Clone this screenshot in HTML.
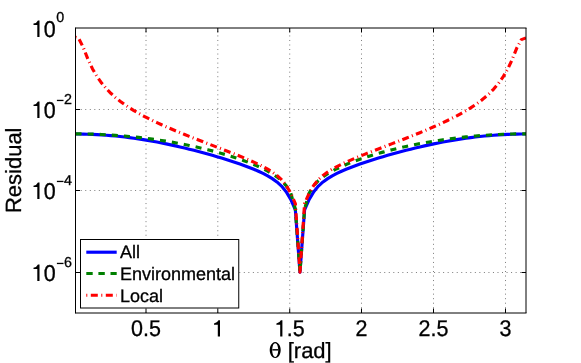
<!DOCTYPE html>
<html><head><meta charset="utf-8"><title>Residual</title>
<style>
html,body{margin:0;padding:0;background:#fff;}
svg{display:block;will-change:transform;}
text{font-family:"Liberation Sans",sans-serif;fill:#000;stroke:#000;stroke-width:0.3px;text-rendering:geometricPrecision;filter:grayscale(1);}
</style></head><body>
<svg width="581" height="363" viewBox="0 0 581 363">
<rect width="581" height="363" fill="#fff"/>

<g stroke="#7c7c7c" stroke-width="1" stroke-dasharray="1 3.53" fill="none">
<line x1="146.0" y1="313.0" x2="146.0" y2="28.0" stroke-dashoffset="4.3"/>
<line x1="217.8" y1="313.0" x2="217.8" y2="28.0" stroke-dashoffset="4.3"/>
<line x1="289.72" y1="313.0" x2="289.72" y2="28.0" stroke-dashoffset="4.3"/>
<line x1="361.5" y1="313.0" x2="361.5" y2="28.0" stroke-dashoffset="4.3"/>
<line x1="433.5" y1="313.0" x2="433.5" y2="28.0" stroke-dashoffset="4.3"/>
<line x1="505.5" y1="313.0" x2="505.5" y2="28.0" stroke-dashoffset="4.3"/>
<line x1="75.5" y1="109.50" x2="526.0" y2="109.50" stroke-dashoffset="3.83"/>
<line x1="75.5" y1="190.50" x2="526.0" y2="190.50" stroke-dashoffset="3.83"/>
<line x1="75.5" y1="272.50" x2="526.0" y2="272.50" stroke-dashoffset="3.83"/>
</g>
<clipPath id="c"><rect x="75.5" y="28.0" width="450.5" height="285.0"/></clipPath>
<g clip-path="url(#c)" fill="none" stroke-width="3.15" stroke-linejoin="round">
<path d="M75.50,134.00 L78.57,134.02 L83.18,134.09 L87.80,134.22 L92.41,134.40 L97.02,134.63 L101.63,134.91 L106.25,135.24 L110.86,135.62 L115.47,136.05 L120.08,136.53 L124.70,137.06 L129.31,137.64 L133.92,138.26 L138.53,138.93 L143.15,139.65 L147.76,140.41 L152.37,141.22 L156.98,142.06 L161.60,142.96 L166.21,143.89 L170.82,144.87 L175.43,145.88 L180.04,146.93 L184.66,148.03 L189.27,149.16 L193.88,150.32 L198.49,151.53 L203.11,152.77 L207.72,154.04 L212.33,155.35 L216.94,156.70 L221.56,158.09 L226.17,159.52 L230.78,160.99 L235.39,162.52 L240.01,164.10 L244.62,165.74 L249.23,167.47 L253.84,169.31 L258.45,171.28 L263.07,173.44 L267.68,175.85 L272.29,178.63 L276.90,181.95 L281.52,186.11 L286.13,191.64 L290.74,199.46 L295.35,209.83 L299.97,272.20 L304.58,209.83 L309.19,199.46 L313.80,191.64 L318.42,186.11 L323.03,181.95 L327.64,178.63 L332.25,175.85 L336.87,173.44 L341.48,171.28 L346.09,169.31 L350.70,167.47 L355.31,165.74 L359.93,164.10 L364.54,162.52 L369.15,160.99 L373.76,159.52 L378.38,158.09 L382.99,156.70 L387.60,155.35 L392.21,154.04 L396.83,152.77 L401.44,151.53 L406.05,150.32 L410.66,149.16 L415.28,148.03 L419.89,146.93 L424.50,145.88 L429.11,144.87 L433.72,143.89 L438.34,142.96 L442.95,142.06 L447.56,141.22 L452.17,140.41 L456.79,139.65 L461.40,138.93 L466.01,138.26 L470.62,137.64 L475.24,137.06 L479.85,136.53 L484.46,136.05 L489.07,135.62 L493.69,135.24 L498.30,134.91 L502.91,134.63 L507.52,134.40 L512.14,134.22 L516.75,134.09 L521.36,134.02 L525.97,133.99" stroke="#0000ff"/>
<path d="M75.50,133.86 L78.57,133.87 L83.18,133.93 L87.80,134.02 L92.41,134.14 L97.02,134.30 L101.63,134.50 L106.25,134.74 L110.86,135.01 L115.47,135.32 L120.08,135.67 L124.70,136.05 L129.31,136.47 L133.92,136.92 L138.53,137.42 L143.15,137.95 L147.76,138.52 L152.37,139.13 L156.98,139.78 L161.60,140.47 L166.21,141.20 L170.82,141.97 L175.43,142.78 L180.04,143.63 L184.66,144.52 L189.27,145.46 L193.88,146.45 L198.49,147.48 L203.11,148.56 L207.72,149.69 L212.33,150.87 L216.94,152.11 L221.56,153.40 L226.17,154.76 L230.78,156.18 L235.39,157.67 L240.01,159.24 L244.62,160.90 L249.23,162.66 L253.84,164.53 L258.45,166.54 L263.07,168.72 L267.68,171.11 L272.29,173.79 L276.90,176.89 L281.52,180.65 L286.13,185.57 L290.74,193.06 L295.35,208.95 L299.97,272.20 L304.58,208.95 L309.19,193.06 L313.80,185.57 L318.42,180.65 L323.03,176.89 L327.64,173.79 L332.25,171.11 L336.87,168.72 L341.48,166.54 L346.09,164.53 L350.70,162.66 L355.31,160.90 L359.93,159.24 L364.54,157.67 L369.15,156.18 L373.76,154.76 L378.38,153.40 L382.99,152.11 L387.60,150.87 L392.21,149.69 L396.83,148.56 L401.44,147.48 L406.05,146.45 L410.66,145.46 L415.28,144.52 L419.89,143.63 L424.50,142.78 L429.11,141.97 L433.72,141.20 L438.34,140.47 L442.95,139.78 L447.56,139.13 L452.17,138.52 L456.79,137.95 L461.40,137.42 L466.01,136.92 L470.62,136.47 L475.24,136.05 L479.85,135.67 L484.46,135.32 L489.07,135.01 L493.69,134.74 L498.30,134.50 L502.91,134.30 L507.52,134.14 L512.14,134.02 L516.75,133.93 L521.36,133.87 L525.97,133.85" stroke="#008000" stroke-dasharray="6.05 6.05"/>
<path d="M75.50,37.34 L78.57,38.12 L83.18,47.21 L87.80,58.94 L92.41,68.69 L97.02,76.56 L101.63,83.05 L106.25,88.54 L110.86,93.29 L115.47,97.47 L120.08,101.21 L124.70,104.60 L129.31,107.71 L133.92,110.58 L138.53,113.27 L143.15,115.79 L147.76,118.18 L152.37,120.47 L156.98,122.66 L161.60,124.77 L166.21,126.82 L170.82,128.81 L175.43,130.76 L180.04,132.67 L184.66,134.54 L189.27,136.39 L193.88,138.22 L198.49,140.03 L203.11,141.83 L207.72,143.61 L212.33,145.40 L216.94,147.18 L221.56,148.96 L226.17,150.75 L230.78,152.55 L235.39,154.37 L240.01,156.23 L244.62,158.12 L249.23,160.07 L253.84,162.11 L258.45,164.26 L263.07,166.57 L267.68,169.12 L272.29,172.01 L276.90,175.43 L281.52,179.67 L286.13,185.26 L290.74,193.12 L295.35,203.52 L299.97,272.20 L304.58,203.52 L309.19,193.12 L313.80,185.26 L318.42,179.67 L323.03,175.43 L327.64,172.01 L332.25,169.12 L336.87,166.57 L341.48,164.26 L346.09,162.11 L350.70,160.07 L355.31,158.12 L359.93,156.23 L364.54,154.37 L369.15,152.55 L373.76,150.75 L378.38,148.96 L382.99,147.18 L387.60,145.40 L392.21,143.61 L396.83,141.83 L401.44,140.03 L406.05,138.22 L410.66,136.39 L415.28,134.54 L419.89,132.67 L424.50,130.76 L429.11,128.81 L433.72,126.82 L438.34,124.77 L442.95,122.66 L447.56,120.47 L452.17,118.18 L456.79,115.79 L461.40,113.27 L466.01,110.68 L470.62,107.88 L475.24,104.84 L479.85,101.51 L484.46,97.84 L489.07,93.72 L493.69,89.04 L498.30,83.61 L502.91,77.19 L507.52,69.39 L512.14,59.64 L516.75,48.11 L521.36,39.62 L525.97,37.95" stroke="#ff0000" stroke-dasharray="1 3.4 6.9 3.36"/>
</g>
<g stroke="#000" stroke-width="1" fill="none">
<line x1="75.5" y1="27.5" x2="75.5" y2="313.5"/>
<line x1="75.5" y1="313.0" x2="526.5" y2="313.0"/>
<line x1="75.5" y1="28.0" x2="526.5" y2="28.0"/>
<line x1="526.0" y1="28.0" x2="526.0" y2="313.0"/>
<line x1="146.0" y1="313.0" x2="146.0" y2="308.5"/>
<line x1="146.0" y1="28.0" x2="146.0" y2="32.5"/>
<line x1="217.8" y1="313.0" x2="217.8" y2="308.5"/>
<line x1="217.8" y1="28.0" x2="217.8" y2="32.5"/>
<line x1="289.72" y1="313.0" x2="289.72" y2="308.5"/>
<line x1="289.72" y1="28.0" x2="289.72" y2="32.5"/>
<line x1="361.5" y1="313.0" x2="361.5" y2="308.5"/>
<line x1="361.5" y1="28.0" x2="361.5" y2="32.5"/>
<line x1="433.5" y1="313.0" x2="433.5" y2="308.5"/>
<line x1="433.5" y1="28.0" x2="433.5" y2="32.5"/>
<line x1="505.5" y1="313.0" x2="505.5" y2="308.5"/>
<line x1="505.5" y1="28.0" x2="505.5" y2="32.5"/>
<line x1="75.5" y1="109.5" x2="80.0" y2="109.5"/>
<line x1="526.0" y1="109.5" x2="521.5" y2="109.5"/>
<line x1="75.5" y1="190.5" x2="80.0" y2="190.5"/>
<line x1="526.0" y1="190.5" x2="521.5" y2="190.5"/>
<line x1="75.5" y1="272.5" x2="80.0" y2="272.5"/>
<line x1="526.0" y1="272.5" x2="521.5" y2="272.5"/>
</g>
<text transform="translate(146.0,336.3) scale(1,1.055)" font-size="21.5" text-anchor="middle">0.5</text>
<path fill="#000" d="M214.00,323.40 Q217.30,323.10 218.45,320.30 L220.00,320.30 L220.00,336.50 L217.80,336.50 L217.80,324.75 L214.00,324.75 Z"/>
<path fill="#000" d="M276.40,323.40 Q279.70,323.10 280.85,320.30 L282.40,320.30 L282.40,336.50 L280.20,336.50 L280.20,324.75 L276.40,324.75 Z"/>
<text transform="translate(286.8,336.3) scale(1,1.055)" font-size="21.5" text-anchor="start">.5</text>
<text transform="translate(361.5,336.3) scale(1,1.055)" font-size="21.5" text-anchor="middle">2</text>
<text transform="translate(433.5,336.3) scale(1,1.055)" font-size="21.5" text-anchor="middle">2.5</text>
<text transform="translate(505.5,336.3) scale(1,1.055)" font-size="21.5" text-anchor="middle">3</text>
<text transform="translate(55.8,36.50) scale(1,1.065)" font-size="21.5" text-anchor="end">0</text>
<path fill="#000" d="M33.50,23.60 Q36.80,23.30 37.95,20.50 L39.50,20.50 L39.50,36.90 L37.30,36.90 L37.30,24.95 L33.50,24.95 Z"/>
<text transform="translate(56.3,22.2)" font-size="14.3" text-anchor="start">0</text>
<text transform="translate(55.8,117.60) scale(1,1.065)" font-size="21.5" text-anchor="end">0</text>
<path fill="#000" d="M33.50,104.70 Q36.80,104.40 37.95,101.60 L39.50,101.60 L39.50,118.00 L37.30,118.00 L37.30,106.05 L33.50,106.05 Z"/>
<rect x="56.9" y="99.80" width="6.6" height="1.3" fill="#000"/>
<text transform="translate(63.9,103.7)" font-size="14.3" text-anchor="start">2</text>
<text transform="translate(55.8,198.60) scale(1,1.065)" font-size="21.5" text-anchor="end">0</text>
<path fill="#000" d="M33.50,185.70 Q36.80,185.40 37.95,182.60 L39.50,182.60 L39.50,199.00 L37.30,199.00 L37.30,187.05 L33.50,187.05 Z"/>
<rect x="56.9" y="180.80" width="6.6" height="1.3" fill="#000"/>
<text transform="translate(63.9,185.2)" font-size="14.3" text-anchor="start">4</text>
<text transform="translate(55.8,280.60) scale(1,1.065)" font-size="21.5" text-anchor="end">0</text>
<path fill="#000" d="M33.50,267.70 Q36.80,267.40 37.95,264.60 L39.50,264.60 L39.50,281.00 L37.30,281.00 L37.30,269.05 L33.50,269.05 Z"/>
<rect x="56.9" y="262.80" width="6.6" height="1.3" fill="#000"/>
<text transform="translate(63.9,266.6)" font-size="14.3" text-anchor="start">6</text>
<path fill="#000" fill-rule="evenodd" d="M275.2,342.1 a5.5,7.95 0 1,0 0.001,0 Z M275.2,343.2 a3.0,6.85 0 1,1 -0.001,0 Z"/>
<rect x="272.4" y="349.1" width="5.7" height="1.45" fill="#000"/>
<text x="287.7" y="358" font-size="22.0" text-anchor="start">[rad]</text>
<text transform="translate(20.5,170.3) rotate(-90)" font-size="22.0" text-anchor="middle">Residual</text>
<rect x="80.5" y="239.5" width="158.25" height="68.5" fill="#fff" stroke="#000" stroke-width="1"/>
<g fill="none" stroke-width="3.15">
<line x1="86.3" y1="252.2" x2="116.7" y2="252.2" stroke="#0000ff"/>
<line x1="86.3" y1="273.5" x2="116.7" y2="273.5" stroke="#008000" stroke-dasharray="6.4 5.7"/>
<line x1="86.3" y1="295.2" x2="116.7" y2="295.2" stroke="#ff0000" stroke-dasharray="1 3.5 7 3.5"/>
</g>
<text x="120" y="258.1" font-size="18">All</text>
<text x="120" y="280.2" font-size="18">Environmental</text>
<text x="120" y="301.8" font-size="18">Local</text>
</svg></body></html>
